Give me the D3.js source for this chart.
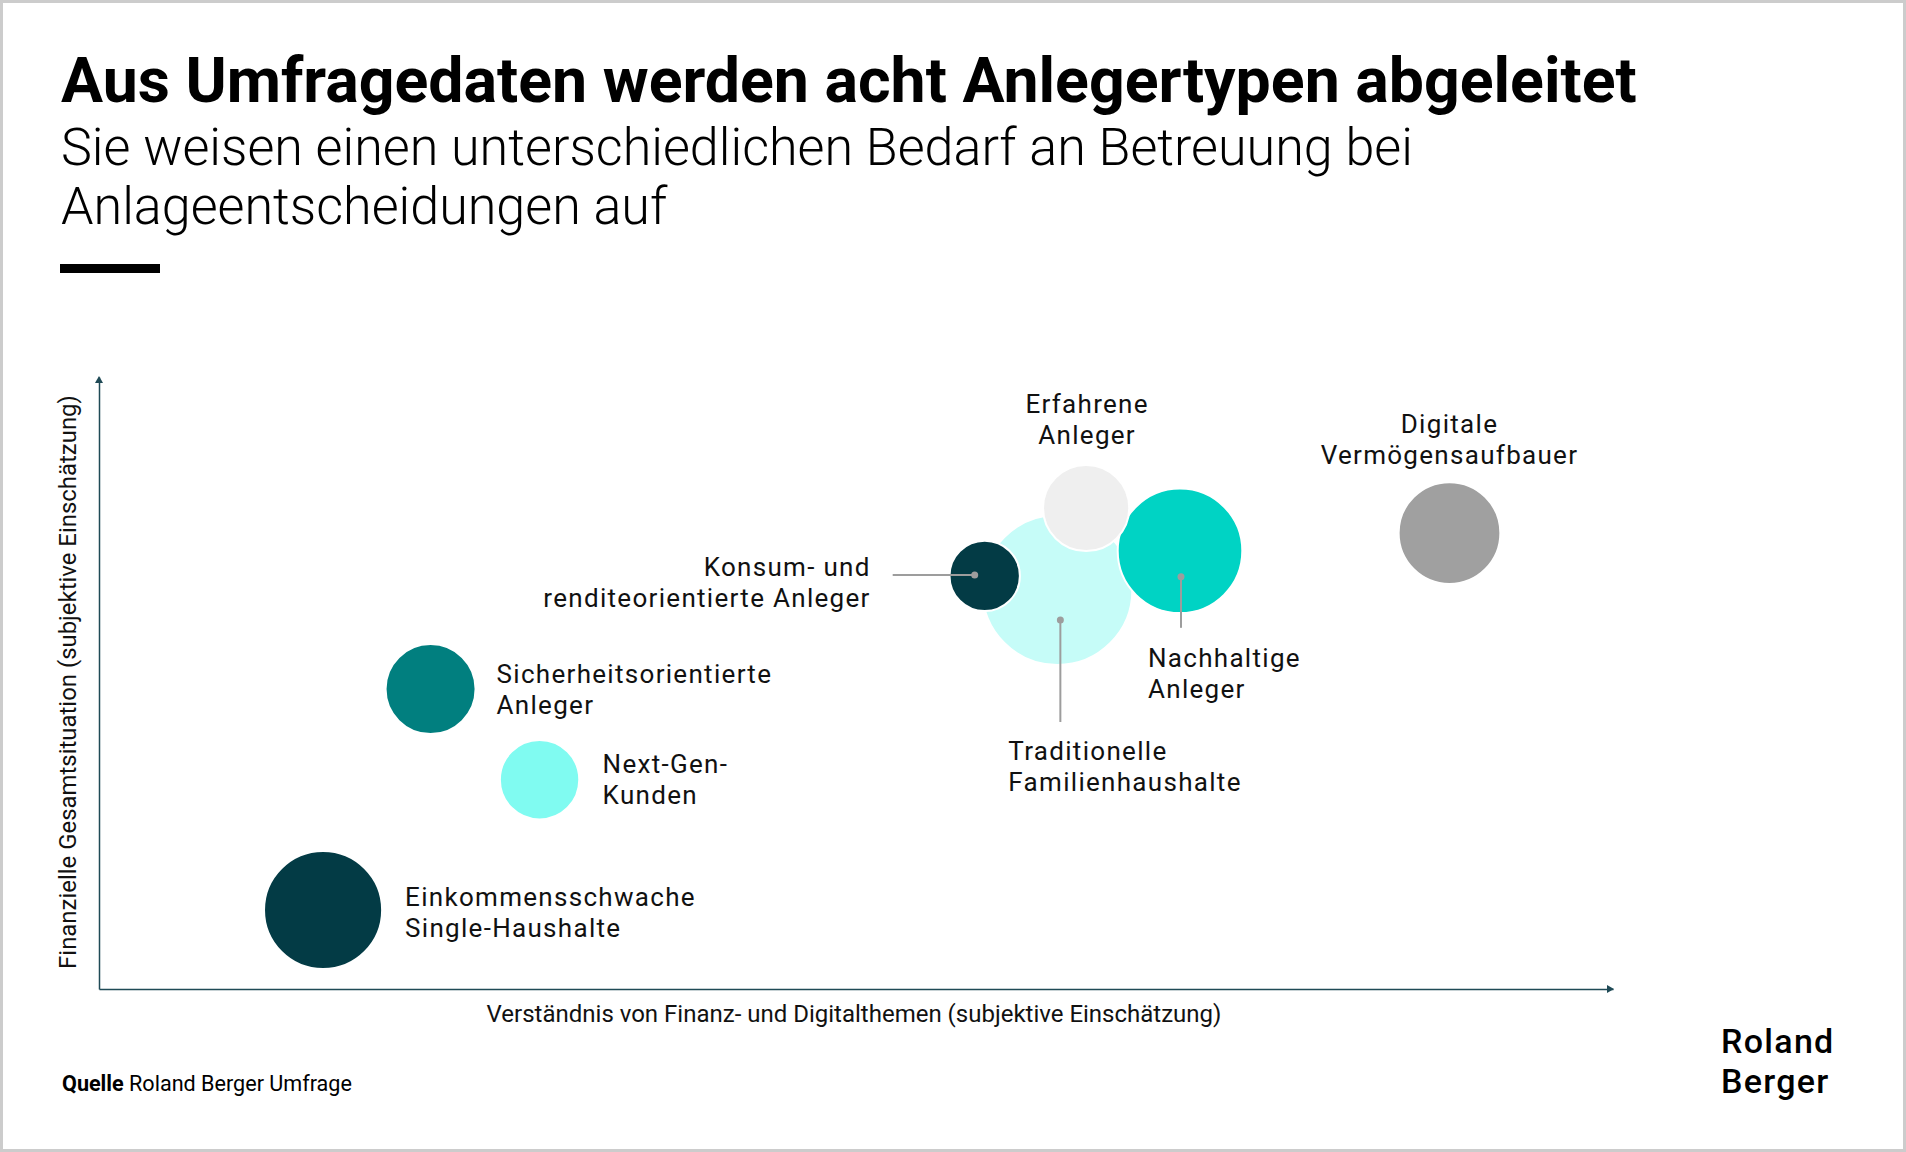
<!DOCTYPE html>
<html lang="de">
<head>
<meta charset="utf-8">
<title>Anlegertypen</title>
<script src="https://cdn.jsdelivr.net/npm/d3@7"></script>
<style>
  body { margin: 0; background: #fff; }
  text { font-family: Roboto, "Noto Sans", sans-serif; }
</style>
</head>
<body>
<script>
// data (0-100 subjective scales, size = relative group size)
const types = ["Traditionelle Familienhaushalte", "Nachhaltige Anleger", "Einkommensschwache Single-Haushalte",
  "Digitale Vermögensaufbauer", "Sicherheitsorientierte Anleger", "Erfahrene Anleger", "Next-Gen-Kunden",
  "Konsum- und renditeorientierte Anleger"]
const understanding = [63.3, 71.4, 14.8, 89.2, 21.9, 65.2, 29.1, 58.5]
const finances = [65.2, 71.6, 12.9, 74.5, 49.0, 78.6, 34.2, 67.5]
const groupSize = [100, 69, 62, 46, 36, 33, 28, 22]
const labelLines = [["Traditionelle", "Familienhaushalte"], ["Nachhaltige", "Anleger"], ["Einkommensschwache", "Single-Haushalte"],
  ["Digitale", "Vermögensaufbauer"], ["Sicherheitsorientierte", "Anleger"], ["Erfahrene", "Anleger"], ["Next-Gen-", "Kunden"],
  ["Konsum- und", "renditeorientierte Anleger"]]

const colours = ["#c6fcf8", "#00d3c4", "#033b45", "#a0a0a0", "#017f7f", "#efefef", "#80fbf1", "#033b45"]

// label placement relative to bubble centre
const labelPos = {
  "Traditionelle Familienhaushalte": { dx: -49, dy: 170, anchor: "start", dot: [3, 30], end: [3, 132] },
  "Nachhaltige Anleger": { dx: -32, dy: 116, anchor: "start", dot: [1, 26], end: [1, 77] },
  "Einkommensschwache Single-Haushalte": { dx: 82, dy: -4, anchor: "start" },
  "Digitale Vermögensaufbauer": { dx: 0, dy: -100, anchor: "middle" },
  "Sicherheitsorientierte Anleger": { dx: 66, dy: -6, anchor: "start" },
  "Erfahrene Anleger": { dx: 1, dy: -95, anchor: "middle" },
  "Next-Gen-Kunden": { dx: 63, dy: -7, anchor: "start" },
  "Konsum- und renditeorientierte Anleger": { dx: -114, dy: 0, anchor: "end", dot: [-10, -1], end: [-92, -1] }
}

const W = 1906, H = 1152
const svg = d3.select("body").append("svg").attr("width", W).attr("height", H)

svg.append("rect").attr("x", 1.5).attr("y", 1.5).attr("width", W - 3).attr("height", H - 3)
  .attr("fill", "#fff").attr("stroke", "#cccccc").attr("stroke-width", 3)

const fit = (sel, w) => {
  const fs = parseFloat(sel.attr("font-size"))
  sel.attr("font-size", fs * w / sel.node().getComputedTextLength())
  return parseFloat(sel.attr("font-size"))
}

// header
const title = svg.append("text").attr("x", 61).attr("y", 102).attr("font-size", 57).attr("font-weight", 700)
  .attr("fill", "#000").text("Aus Umfragedaten werden acht Anlegertypen abgeleitet")
fit(title, 1576)
const sub1 = svg.append("text").attr("x", 61).attr("y", 165).attr("font-size", 46).attr("font-weight", 300)
  .attr("fill", "#000").text("Sie weisen einen unterschiedlichen Bedarf an Betreuung bei")
const subSize = fit(sub1, 1352)
svg.append("text").attr("x", 61).attr("y", 224).attr("font-size", subSize).attr("font-weight", 300)
  .attr("fill", "#000").text("Anlageentscheidungen auf")
svg.append("rect").attr("x", 60).attr("y", 264).attr("width", 100).attr("height", 9).attr("fill", "#000")

// plot area
const x = d3.scaleLinear().domain([0, 100]).range([99, 1613])
const y = d3.scaleLinear().domain([0, 100]).range([989, 377])
const r = d3.scaleSqrt().domain([0, 100]).range([0, 75])
const colour = d3.scaleOrdinal(types, colours)

const axisColour = "#1f4a56"
svg.append("g").attr("transform", `translate(0,${y(0)})`)
  .call(d3.axisBottom(x).tickValues([]).tickSizeOuter(0))
svg.append("g").attr("transform", `translate(${x(0)},0)`)
  .call(d3.axisLeft(y).tickValues([]).tickSizeOuter(0))
svg.selectAll(".domain").attr("stroke", axisColour).attr("stroke-width", 1.5)

svg.append("path").attr("fill", axisColour)
  .attr("d", `M${x(100) + 1},${y(0)} l-7,-4 v8 z`)
svg.append("path").attr("fill", axisColour)
  .attr("d", `M${x(0)},${y(100) - 1} l-4,7 h8 z`)

svg.append("text").attr("x", 854).attr("y", 1022).attr("text-anchor", "middle")
  .attr("font-size", 21).attr("fill", "#111").text("Verständnis von Finanz- und Digitalthemen (subjektive Einschätzung)")
  .call(s => fit(s, 735))
svg.append("text").attr("transform", "translate(76,682) rotate(-90)").attr("text-anchor", "middle")
  .attr("font-size", 21).attr("fill", "#111").text("Finanzielle Gesamtsituation (subjektive Einschätzung)")
  .call(s => fit(s, 574))

const data = types.map((t, i) => ({ type: t, ux: understanding[i], fy: finances[i], size: groupSize[i], lines: labelLines[i] }))

svg.append("g").selectAll("circle").data(data).join("circle")
  .attr("cx", d => x(d.ux)).attr("cy", d => y(d.fy)).attr("r", d => r(d.size))
  .attr("fill", d => colour(d.type)).attr("stroke", "#fff").attr("stroke-width", 2)

// leader lines
const led = data.filter(d => labelPos[d.type].dot)
svg.append("g").selectAll("line").data(led).join("line")
  .attr("x1", d => x(d.ux) + labelPos[d.type].dot[0]).attr("y1", d => y(d.fy) + labelPos[d.type].dot[1])
  .attr("x2", d => x(d.ux) + labelPos[d.type].end[0]).attr("y2", d => y(d.fy) + labelPos[d.type].end[1])
  .attr("stroke", "#9d9d9d").attr("stroke-width", 2)
svg.append("g").selectAll("circle").data(led).join("circle")
  .attr("cx", d => x(d.ux) + labelPos[d.type].dot[0]).attr("cy", d => y(d.fy) + labelPos[d.type].dot[1])
  .attr("r", 3.5).attr("fill", "#9d9d9d")

// labels
svg.append("g").selectAll("text").data(data).join("text")
  .attr("x", d => x(d.ux) + labelPos[d.type].dx).attr("y", d => y(d.fy) + labelPos[d.type].dy)
  .attr("text-anchor", d => labelPos[d.type].anchor).attr("font-size", 26).attr("letter-spacing", 1.3)
  .attr("fill", "#111")
  .selectAll("tspan").data(d => d.lines.map(l => [l, d])).join("tspan")
  .attr("x", ([l, d]) => x(d.ux) + labelPos[d.type].dx).attr("dy", (e, i) => i ? 31 : 0)
  .text(([l]) => l)

// footer
const src = svg.append("text").attr("x", 62).attr("y", 1091).attr("font-size", 18).attr("fill", "#000")
src.append("tspan").attr("font-weight", 700).text("Quelle")
src.append("tspan").text(" Roland Berger Umfrage")
fit(src, 290)

const logo = svg.append("text").attr("y", 1053).attr("font-size", 34).attr("font-weight", 500)
  .attr("letter-spacing", 1.3).attr("fill", "#000")
logo.append("tspan").attr("x", 1721).text("Roland")
logo.append("tspan").attr("x", 1721).attr("dy", 40).text("Berger")
</script>
</body>
</html>
